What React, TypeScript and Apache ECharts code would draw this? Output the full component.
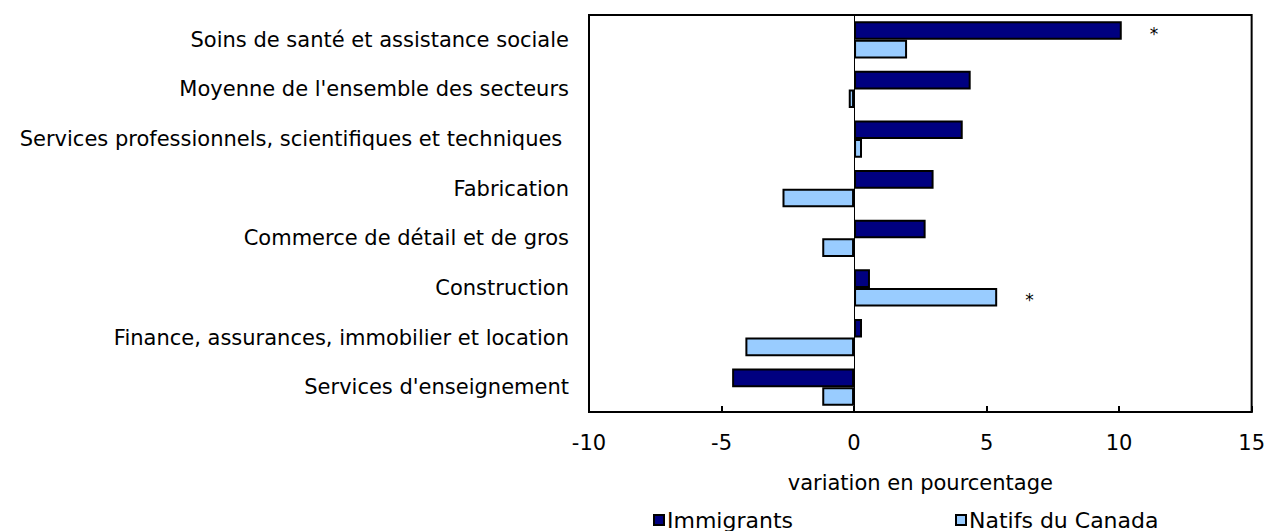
import React, { useEffect, useRef } from "react";
import * as echarts from "echarts";

const categories = [
  "Soins de santé et assistance sociale",
  "Moyenne de l'ensemble des secteurs",
  "Services professionnels, scientifiques et techniques ",
  "Fabrication",
  "Commerce de détail et de gros",
  "Construction",
  "Finance, assurances, immobilier et location",
  "Services d'enseignement",
];
const immigrants = [10.1, 4.4, 4.1, 3.0, 2.7, 0.6, 0.3, -4.6];
const natifs = [2.0, -0.2, 0.3, -2.7, -1.2, 5.4, -4.1, -1.2];
const immigrantsSignificant = [true, false, false, false, false, false, false, false];
const natifsSignificant = [false, false, false, false, false, true, false, false];
const seriesNames = ["Immigrants", "Natifs du Canada"];
const xMin = -10;
const xMax = 15;
const xInterval = 5;
const axisTitle = "variation en pourcentage";

const FONT = "DejaVu Sans";

function withStars(values: number[], flags: boolean[]) {
  return values.map((v, i) =>
    flags[i]
      ? {
          value: v,
          label: {
            show: true,
            position: "right",
            distance: 28,
            offset: [0, 3],
            formatter: "*",
            color: "#000",
            textBorderWidth: 0,
            fontSize: 17,
            fontFamily: FONT,
          },
        }
      : v
  );
}

export default function App() {
  const ref = useRef<HTMLDivElement>(null);
  useEffect(() => {
    if (!ref.current) return;
    const chart = echarts.init(ref.current, null, { renderer: "svg" });
    const legendText = { fontSize: 22, color: "#000", fontFamily: FONT };
    chart.setOption({
      animation: false,
      backgroundColor: "#fff",
      textStyle: { fontFamily: FONT, color: "#000" },
      grid: {
        left: 589,
        right: 15,
        top: 15,
        bottom: 119,
        show: true,
        borderColor: "#000",
        borderWidth: 2,
        backgroundColor: "transparent",
      },
      legend: [
        {
          data: [seriesNames[0]],
          left: 653,
          top: 509,
          padding: 0,
          itemWidth: 10,
          itemHeight: 10,
          icon: "rect",
          textStyle: { ...legendText, padding: [0, 0, 0, -2] },
        },
        {
          data: [seriesNames[1]],
          left: 955,
          top: 509,
          padding: 0,
          itemWidth: 10,
          itemHeight: 10,
          icon: "rect",
          textStyle: { ...legendText, padding: [0, 0, 0, -2] },
        },
      ],
      xAxis: {
        type: "value",
        min: xMin,
        max: xMax,
        interval: xInterval,
        name: axisTitle,
        nameLocation: "middle",
        nameGap: 60,
        nameTextStyle: { fontSize: 21, color: "#000", fontFamily: FONT },
        axisLine: { show: true, onZero: false, lineStyle: { color: "#000", width: 2 } },
        axisTick: { show: true, inside: true, length: 6, lineStyle: { color: "#000", width: 2 } },
        axisLabel: { fontSize: 21, color: "#000", margin: 20, fontFamily: FONT },
        splitLine: { show: false },
      },
      yAxis: {
        type: "category",
        data: categories,
        inverse: true,
        axisLine: { show: false },
        axisTick: { show: false },
        axisLabel: { fontSize: 21, color: "#000", margin: 20, fontFamily: FONT },
        splitLine: { show: false },
      },
      series: [
        {
          name: seriesNames[0],
          type: "bar",
          data: withStars(immigrants, immigrantsSignificant),
          barGap: "0%",
          barCategoryGap: "25%",
          itemStyle: { color: "#000080", borderColor: "#000", borderWidth: 2 },
          markLine: {
            silent: true,
            symbol: "none",
            label: { show: false },
            lineStyle: { color: "#000", width: 1, type: "solid" },
            data: [{ xAxis: 0 }],
          },
        },
        {
          name: seriesNames[1],
          type: "bar",
          data: withStars(natifs, natifsSignificant),
          barGap: "0%",
          barCategoryGap: "25%",
          itemStyle: { color: "#99CCFF", borderColor: "#000", borderWidth: 2 },
        },
      ],
    });
    return () => chart.dispose();
  }, []);
  return (
    <div
      ref={ref}
      style={{ position: "fixed", left: 0, top: 0, width: 1268, height: 531 }}
    />
  );
}
